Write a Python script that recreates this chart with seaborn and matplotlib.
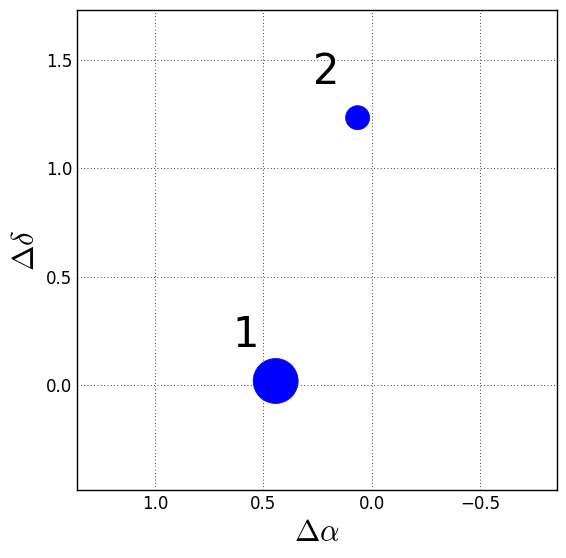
import matplotlib
matplotlib.use("Agg")
import matplotlib.pyplot as plt
import seaborn as sns
import pandas as pd

# offsets of the two components
labels = ["1", "2"]
d_alpha = [0.444, 0.066]
d_delta = [0.018, 1.233]
marker_area = [1050, 300]
label_dx = [0.136, 0.143]
label_dy = [0.21, 0.21]

sns.set_style("white", {
    "axes.edgecolor": "black",
    "axes.grid": True,
    "grid.color": "black",
    "grid.linestyle": ":",
    "xtick.direction": "in",
    "ytick.direction": "in",
    "text.color": "black",
    "axes.labelcolor": "black",
    "xtick.color": "black",
    "ytick.color": "black",
})
plt.rcParams["font.family"] = ["DejaVu Sans"]
plt.rcParams["mathtext.fontset"] = "cm"

df = pd.DataFrame({"ra": d_alpha, "dec": d_delta, "lab": labels})

fig = plt.figure(figsize=(5.66, 5.58), dpi=100)
ax = fig.add_axes([0.136, 0.1219, 0.848, 0.8602])
sns.scatterplot(data=df, x="ra", y="dec", size="lab",
                sizes=dict(zip(labels, marker_area)),
                color="blue", edgecolor="blue", linewidth=0.5,
                legend=False, ax=ax, zorder=3)

for i in range(len(labels)):
    ax.text(d_alpha[i] + label_dx[i], d_delta[i] + label_dy[i], labels[i],
            fontsize=30, ha="center", va="center", color="black")

ax.set_xlim(1.36, -0.853)
ax.set_ylim(-0.485, 1.73)
ax.set_xticks([1.0, 0.5, 0.0, -0.5])
ax.set_yticks([0.0, 0.5, 1.0, 1.5])
ax.tick_params(labelsize=12, length=0)
ax.grid(True, color="black", linestyle=(0, (1, 3)), linewidth=0.6)
for sp in ax.spines.values():
    sp.set_linewidth(1.0)
ax.set_xlabel(r"$\Delta\alpha$", fontsize=22)
ax.set_ylabel(r"$\Delta\delta$", fontsize=22)

fig.savefig("out.png", dpi=100, facecolor="white")
